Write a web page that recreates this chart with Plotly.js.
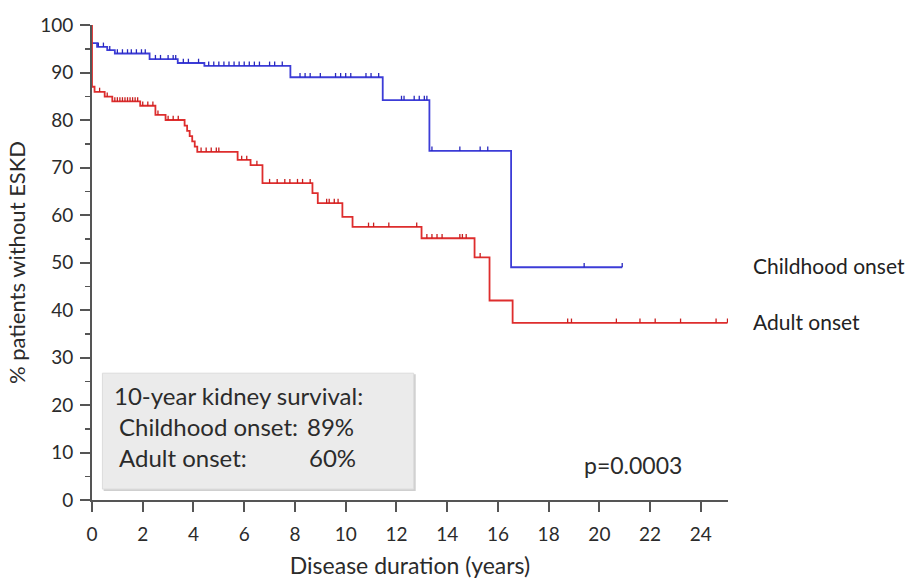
<!DOCTYPE html>
<html>
<head>
<meta charset="utf-8">
<script src="https://cdn.plot.ly/plotly-3.0.1.min.js"></script>
<style>html,body{margin:0;padding:0;background:#fff;}#chart{width:917px;height:579px;}</style>
</head>
<body>
<div id="chart"></div>
<script>
// Kaplan-Meier step data (years, % without ESKD)
const childTimes = [0, 0.2, 0.6, 0.9, 2.27, 3.38, 4.43, 7.82, 11.46, 13.3, 16.52, 20.9];
const childSurv  = [96.2, 95.4, 94.7, 94.0, 92.8, 92.0, 91.4, 89.0, 84.2, 73.5, 49.0, 49.0];
const childCensor = [0.25, 0.45, 0.7, 1.0, 1.2, 1.4, 1.55, 1.75, 1.95, 2.1, 2.5, 2.7, 3.0, 3.2, 3.3,
  3.6, 3.8, 4.2, 4.6, 4.8, 5.0, 5.2, 5.4, 5.6, 5.8, 6.0, 6.2, 6.4, 6.6, 7.0, 7.2, 7.5,
  8.2, 8.4, 8.6, 9.0, 9.6, 9.8, 10.0, 10.2, 10.8, 11.0, 11.3,
  12.2, 12.3, 12.7, 12.9, 13.1, 13.2, 13.4, 14.5, 15.3, 15.6, 19.4, 20.9];

const adultTimes = [0, 0, 0.1, 0.5, 0.8, 1.9, 2.5, 2.9, 3.65, 3.75, 3.85, 3.95, 4.05, 4.15, 5.74, 6.25, 6.72, 8.69, 8.9, 9.87, 10.27, 12.99, 15.08, 15.67, 16.58, 25.05];
const adultSurv  = [100, 87.0, 85.9, 84.9, 83.9, 83.0, 81.1, 80.0, 78.8, 77.7, 76.6, 75.5, 74.4, 73.3, 71.6, 70.5, 66.7, 64.6, 62.5, 59.6, 57.5, 55.1, 51.1, 42.0, 37.3, 37.3];
const adultCensor = [0.3, 0.6, 0.9, 1.0, 1.1, 1.2, 1.3, 1.4, 1.5, 1.6, 1.7, 1.8, 2.0, 2.2, 2.4, 2.6,
  3.0, 3.2, 3.4, 4.3, 4.5, 4.7, 4.9, 5.0, 5.9, 6.1, 6.5, 7.0, 7.3, 7.6, 7.8, 8.1, 8.3, 8.6,
  9.25, 9.35, 9.55, 9.7, 10.9, 11.1, 11.7, 12.8, 13.2, 13.4, 13.6, 13.8, 14.5, 14.6, 14.75, 15.3,
  18.75, 18.9, 20.67, 21.6, 22.2, 23.2, 24.6, 25.05];

const seriesNames = ["Childhood onset", "Adult onset"];
const boxTitle = "10-year kidney survival:";
const tenYear = ["89%", "60%"];
const pValue = "p=0.0003";

const yTicks = [0,10,20,30,40,50,60,70,80,90,100];
const xTicks = [0,2,4,6,8,10,12,14,16,18,20,22,24];

function stepAt(times, surv, t) {
  let v = surv[0];
  for (let i = 0; i < times.length; i++) { if (times[i] <= t) v = surv[i]; }
  return v;
}

const blue = "rgb(60,60,215)";
const red = "rgb(222,45,45)";
const font = "Lato, 'Open Sans', sans-serif";
const txt = "#2b2b2b";

const traces = [
  {x: childTimes, y: childSurv, mode: "lines", line: {shape: "hv", color: blue, width: 1.8}, cliponaxis: false, hoverinfo: "skip"},
  {x: adultTimes, y: adultSurv, mode: "lines", line: {shape: "hv", color: red, width: 1.8}, cliponaxis: false, hoverinfo: "skip"},
  {x: childCensor, y: childCensor.map(t => stepAt(childTimes, childSurv, t)), mode: "markers",
   marker: {size: 1, color: blue, opacity: 0}, cliponaxis: false,
   error_y: {type: "constant", symmetric: false, value: 0.9, valueminus: 0, width: 0, thickness: 1.3, color: "rgb(40,40,190)"}},
  {x: adultCensor, y: adultCensor.map(t => stepAt(adultTimes, adultSurv, t)), mode: "markers",
   marker: {size: 1, color: red, opacity: 0}, cliponaxis: false,
   error_y: {type: "constant", symmetric: false, value: 0.9, valueminus: 0, width: 0, thickness: 1.3, color: "rgb(200,30,30)"}}
];

const axisColor = "#555";
const layout = {
  width: 917, height: 579,
  margin: {l: 92, r: 189, t: 25, b: 79},
  paper_bgcolor: "#fff", plot_bgcolor: "#fff",
  showlegend: false,
  font: {family: font, color: txt},
  xaxis: {
    range: [0, 25.07], tickvals: xTicks, ticktext: xTicks.map(String),
    showgrid: false, zeroline: false, showline: true, linecolor: axisColor, linewidth: 2,
    ticks: "outside", ticklen: 10, tickwidth: 2, tickcolor: axisColor,
    tickfont: {family: font, size: 19, color: txt}, ticklabelstandoff: 6,
    title: {text: "Disease duration (years)", font: {family: font, size: 23, color: txt}, standoff: 14},
    fixedrange: true
  },
  yaxis: {
    range: [0, 100], tickvals: yTicks, ticktext: yTicks.map(String),
    showgrid: false, zeroline: false, showline: true, linecolor: axisColor, linewidth: 2,
    ticks: "outside", ticklen: 10, tickwidth: 2, tickcolor: axisColor,
    minor: {dtick: 5, ticks: "outside", ticklen: 5, tickwidth: 1.5, tickcolor: axisColor},
    tickfont: {family: font, size: 19, color: txt}, ticklabelstandoff: 3,
    title: {text: "% patients without ESKD", font: {family: font, size: 22, color: txt}, standoff: 8},
    fixedrange: true
  },
  shapes: [
    {type: "rect", xref: "x", yref: "y", x0: 0.46, x1: 12.76, y0: 1.9, y1: 26.5, line: {width: 0}, fillcolor: "#cfcfcf", layer: "below"},
    {type: "rect", xref: "x", yref: "y", x0: 0.41, x1: 12.68, y0: 2.3, y1: 26.7, line: {width: 1, color: "#dcdcdc"}, fillcolor: "#ebebeb", layer: "below"}
  ],
  annotations: [
    {xref: "x", yref: "y", x: 0.8, y: 22.1, xanchor: "left", yanchor: "middle", text: boxTitle, showarrow: false, font: {family: font, size: 24, color: txt}},
    {xref: "x", yref: "y", x: 1.0, y: 15.4, xanchor: "left", yanchor: "middle", text: seriesNames[0] + ":", showarrow: false, font: {family: font, size: 24, color: txt}},
    {xref: "x", yref: "y", x: 10.4, y: 15.4, xanchor: "right", yanchor: "middle", text: tenYear[0], showarrow: false, font: {family: font, size: 24, color: txt}},
    {xref: "x", yref: "y", x: 1.0, y: 9.0, xanchor: "left", yanchor: "middle", text: "Adult onset:", showarrow: false, font: {family: font, size: 24, color: txt}},
    {xref: "x", yref: "y", x: 10.5, y: 9.0, xanchor: "right", yanchor: "middle", text: tenYear[1], showarrow: false, font: {family: font, size: 24, color: txt}},
    {xref: "x", yref: "y", x: 19.3, y: 7.4, xanchor: "left", yanchor: "middle", text: pValue, showarrow: false, font: {family: font, size: 23, color: txt}},
    {xref: "paper", yref: "paper", x: 1.036, y: 0.493, xanchor: "left", yanchor: "middle", text: seriesNames[0], showarrow: false, font: {family: font, size: 21, color: "#222"}},
    {xref: "paper", yref: "paper", x: 1.036, y: 0.375, xanchor: "left", yanchor: "middle", text: seriesNames[1], showarrow: false, font: {family: font, size: 21, color: "#222"}}
  ]
};

Plotly.newPlot("chart", traces, layout, {displayModeBar: false, staticPlot: true});
</script>
</body>
</html>
